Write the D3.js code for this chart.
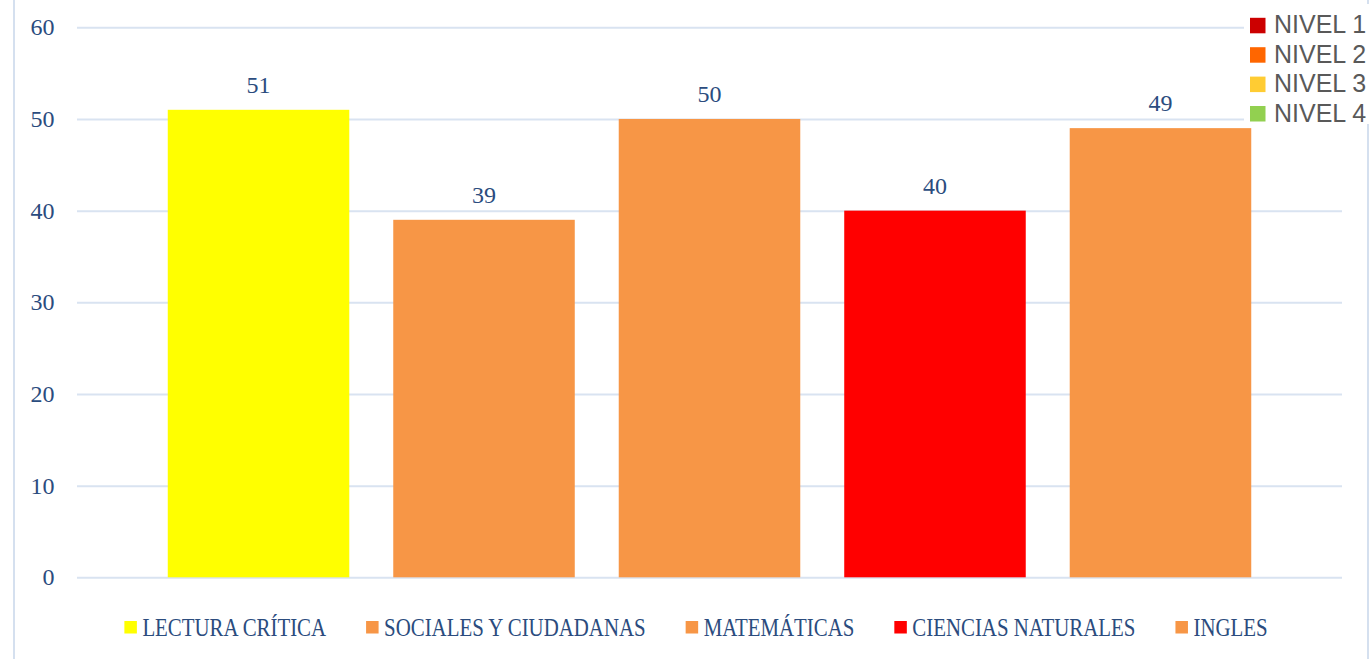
<!DOCTYPE html>
<html>
<head>
<meta charset="utf-8">
<script src="https://cdn.jsdelivr.net/npm/d3@7"></script>
<style>
  html, body { margin: 0; padding: 0; background: #ffffff; }
  svg { display: block; }
</style>
</head>
<body>
<svg id="chart" width="1372" height="659"></svg>
<script>
// ---- data ----
const categories = ["LECTURA CRÍTICA", "SOCIALES Y CIUDADANAS", "MATEMÁTICAS", "CIENCIAS NATURALES", "INGLES"];
const values = [51, 39, 50, 40, 49];
const barColors = ["#ffff00", "#f79646", "#f79646", "#ff0000", "#f79646"];
const yTicks = [0, 10, 20, 30, 40, 50, 60];
const levelLabels = ["NIVEL 1", "NIVEL 2", "NIVEL 3", "NIVEL 4"];
const levelColors = ["#cc0000", "#ff6600", "#ffcc33", "#92d050"];

// ---- layout ----
const W = 1372, H = 659;
const plot = { left: 77, right: 1342, top: 27.3, bottom: 577.3 };
const textBlue = "#2b4c7e";
const gridColor = "#d9e3f1";
const frameColor = "#d5e0ef";
const serif = "'Liberation Serif', 'Times New Roman', serif";

const svg = d3.select("#chart");

// frame lines
svg.append("line").attr("x1", 14).attr("x2", 14).attr("y1", 0).attr("y2", H)
  .attr("stroke", frameColor).attr("stroke-width", 2);
svg.append("line").attr("x1", 1368).attr("x2", 1368).attr("y1", 0).attr("y2", H)
  .attr("stroke", frameColor).attr("stroke-width", 2);

const x = d3.scaleBand()
  .domain(categories)
  .range([plot.left, plot.right])
  .paddingInner(0.195)
  .paddingOuter(0.4025);

const y = d3.scaleLinear()
  .domain([0, 60])
  .range([plot.bottom, plot.top]);

// gridlines
const grid = svg.append("g")
  .attr("transform", `translate(${plot.left},0)`)
  .call(d3.axisLeft(y).tickValues(yTicks).tickSize(-(plot.right - plot.left)).tickFormat(""));
grid.select(".domain").remove();
grid.selectAll(".tick line").attr("stroke", gridColor).attr("stroke-width", 2);

// y axis labels
const yAxis = svg.append("g")
  .attr("transform", `translate(${plot.left},0)`)
  .call(d3.axisLeft(y).tickValues(yTicks).tickSize(0).tickPadding(22.5));
yAxis.select(".domain").remove();
yAxis.selectAll(".tick text")
  .attr("fill", textBlue)
  .style("font-family", serif)
  .style("font-size", "24px");

// bars
svg.append("g").selectAll("rect")
  .data(categories)
  .join("rect")
  .attr("x", d => x(d))
  .attr("width", x.bandwidth())
  .attr("y", (d, i) => y(values[i]))
  .attr("height", (d, i) => y(0) - y(values[i]))
  .attr("fill", (d, i) => barColors[i]);

// value labels
svg.append("g").selectAll("text")
  .data(categories)
  .join("text")
  .attr("x", d => x(d) + x.bandwidth() / 2)
  .attr("y", (d, i) => y(values[i]) - 17)
  .attr("text-anchor", "middle")
  .attr("fill", textBlue)
  .style("font-family", serif)
  .style("font-size", "24px")
  .text((d, i) => values[i]);

// bottom legend
const k = 0.835;
const legend = svg.append("g");
let cursor = 0;
categories.forEach((c, i) => {
  const g = legend.append("g").attr("transform", `translate(${cursor},0)`);
  g.append("rect").attr("x", 0).attr("y", -14.5).attr("width", 12.5).attr("height", 12.5)
    .attr("fill", barColors[i]);
  const t = g.append("text")
    .attr("transform", `translate(18,0) scale(${k},1)`)
    .attr("fill", textBlue)
    .style("font-family", serif)
    .style("font-size", "25px")
    .text(c);
  const w = t.node().getComputedTextLength() * k;
  cursor += 18 + w + 40;
});
const total = cursor - 40;
legend.attr("transform", `translate(${696 - total / 2},635.5)`);

// top-right level legend (white box overlay)
const lg = svg.append("g");
lg.append("rect").attr("x", 1244).attr("y", 4).attr("width", 128).attr("height", 120).attr("fill", "#ffffff");
levelLabels.forEach((l, i) => {
  const by = 33.3 + i * 29.4;
  lg.append("rect").attr("x", 1250).attr("y", by - 15.5).attr("width", 15.5).attr("height", 15.5)
    .attr("fill", levelColors[i]);
  lg.append("text").attr("x", 1274).attr("y", by)
    .attr("fill", "#595959")
    .style("font-family", "'Liberation Sans', Arial, sans-serif")
    .style("font-size", "25px")
    .text(l);
});
</script>
</body>
</html>
